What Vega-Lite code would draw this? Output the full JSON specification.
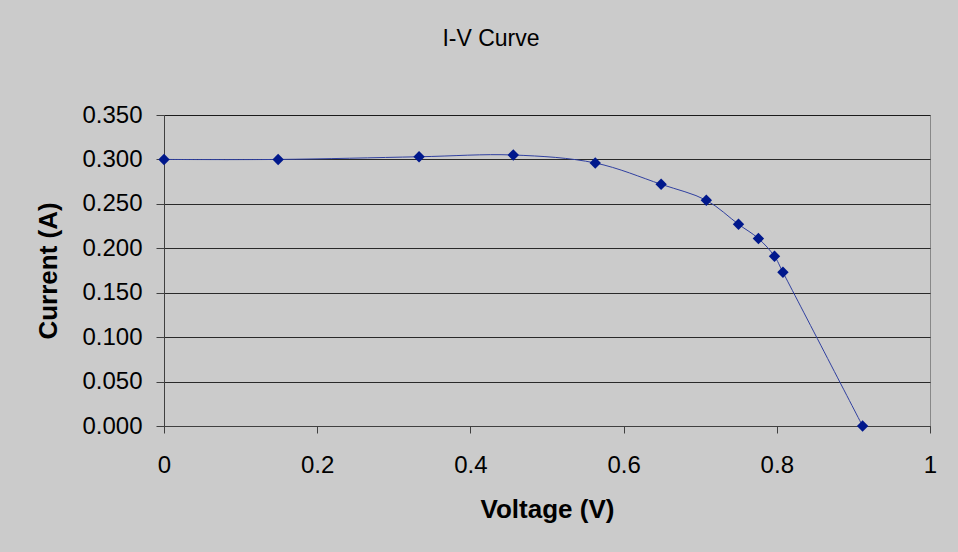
{
  "$schema": "https://vega.github.io/schema/vega-lite/v6.json",
  "autosize": {"type": "none"},
  "width": 766,
  "height": 311,
  "padding": {"left": 164, "top": 115, "right": 28, "bottom": 126},
  "background": "#cbcbcb",
  "title": {
    "text": "I-V Curve",
    "font": "Liberation Sans",
    "fontSize": 23,
    "fontWeight": "normal",
    "color": "#000000",
    "anchor": "middle",
    "offset": 52,
    "dx": -56
  },
  "data": {
    "values": [
      {"v": 0.0, "i": 0.300},
      {"v": 0.149, "i": 0.300},
      {"v": 0.333, "i": 0.303},
      {"v": 0.456, "i": 0.305},
      {"v": 0.563, "i": 0.296},
      {"v": 0.649, "i": 0.272},
      {"v": 0.708, "i": 0.254},
      {"v": 0.750, "i": 0.227},
      {"v": 0.776, "i": 0.211},
      {"v": 0.797, "i": 0.191},
      {"v": 0.808, "i": 0.173},
      {"v": 0.912, "i": 0.000}
    ]
  },
  "encoding": {
    "x": {
      "field": "v", "type": "quantitative",
      "scale": {"domain": [0, 1], "nice": false, "zero": false},
      "axis": {
        "title": "Voltage (V)", "values": [0, 0.2, 0.4, 0.6, 0.8, 1],
        "format": "~g", "grid": false, "domain": true, "domainColor": "#404040",
        "tickColor": "#404040", "tickSize": 7, "labelPadding": 20, "labelFlush": false,
        "labelFont": "Liberation Sans", "labelFontSize": 24, "labelColor": "#000",
        "titleFont": "Liberation Sans", "titleFontSize": 26, "titleFontWeight": "bold",
        "titleColor": "#000", "titlePadding": 19
      }
    },
    "y": {
      "field": "i", "type": "quantitative",
      "scale": {"domain": [0, 0.35], "nice": false},
      "axis": {
        "title": "Current (A)", "values": [0, 0.05, 0.1, 0.15, 0.2, 0.25, 0.3, 0.35],
        "format": ".3f", "grid": true, "gridColor": "#000000", "gridOpacity": 0.8,
        "domain": true, "domainColor": "#404040",
        "tickColor": "#404040", "tickSize": 8, "labelPadding": 14,
        "labelFont": "Liberation Sans", "labelFontSize": 24, "labelColor": "#000",
        "titleFont": "Liberation Sans", "titleFontSize": 26, "titleFontWeight": "bold",
        "titleColor": "#000", "titlePadding": 20
      }
    }
  },
  "layer": [
    {
      "mark": {"type": "line", "interpolate": "catmull-rom", "color": "#3040a0", "strokeWidth": 1}
    },
    {
      "mark": {"type": "point", "shape": "diamond", "filled": true, "color": "#00188c", "opacity": 1, "size": 130}
    }
  ],
  "config": {
    "view": {"stroke": "#888888", "strokeWidth": 1, "fill": "#cbcbcb"}
  }
}
